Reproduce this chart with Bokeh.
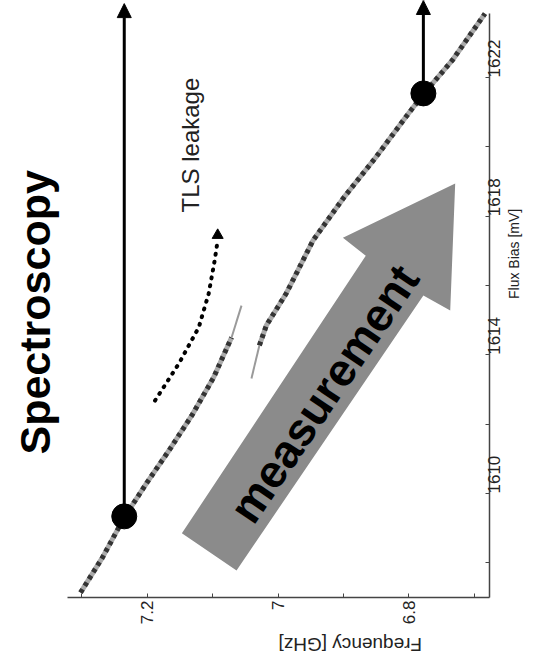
import math
from bokeh.plotting import figure
from bokeh.models import Range1d, FixedTicker, Label, Arrow, NormalHead, Title
from bokeh.embed import file_html
from bokeh.resources import INLINE

FONT = "Liberation Sans"

# Spectroscopy data: flux bias [mV] and qubit frequency [GHz]
lower_flux = [1607.14, 1608.15, 1609.31, 1610.32, 1611.24, 1612.25, 1613.35, 1614.50]
lower_freq = [7.3017, 7.2683, 7.2349, 7.2000, 7.1666, 7.1317, 7.0983, 7.0710]
lower_fade_flux = [1614.50, 1615.42]
lower_fade_freq = [7.0710, 7.0558]
upper_fade_flux = [1613.32, 1614.27]
upper_fade_freq = [7.0406, 7.0285]
upper_flux = [1614.27, 1614.85, 1615.77, 1617.30, 1618.54, 1619.69, 1620.96, 1621.48, 1622.49, 1623.84]
upper_freq = [7.0285, 7.0178, 6.9875, 6.9465, 6.8994, 6.8509, 6.8008, 6.7795, 6.7340, 6.6839]

# operating points and their arrows
point_flux = [1609.34, 1621.54]
point_freq = [7.2349, 6.7780]
arrow_top_flux = [1624.13, 1624.22]

# TLS leakage path
tls_flux = [1612.68, 1613.75, 1614.79, 1615.77, 1616.72, 1617.30]
tls_freq = [7.1879, 7.1514, 7.1211, 7.1059, 7.0968, 7.0922]
tls_tip = (7.0922, 1617.45)

# big "measurement" arrow outline
meas_freq = [7.1469, 6.8660, 6.9009, 6.7294, 6.7370, 6.7780, 7.0634]
meas_flux = [1608.85, 1616.86, 1617.38, 1618.94, 1615.28, 1615.71, 1607.78]

# ticks
freq_ticks = [7.2, 7.0, 6.8]
freq_minor = [7.3, 7.1, 6.9, 6.7]
flux_ticks = [1610, 1614, 1618, 1622]
flux_minor = [1608, 1612, 1616, 1620]

p = figure(width=535, height=668,
           x_range=Range1d(7.3216, 6.677), y_range=Range1d(1607.0, 1624.22),
           x_axis_location="below", y_axis_location="right",
           output_backend="svg", toolbar_location=None,
           min_border_left=65, min_border_right=46, min_border_top=0, min_border_bottom=71)
p.xgrid.visible = False
p.ygrid.visible = False
p.outline_line_color = None
p.background_fill_color = "white"
p.border_fill_color = "white"

for ax in (p.xaxis[0], p.yaxis[0]):
    ax.axis_line_color = "#444444"
    ax.axis_line_width = 1.5
    ax.major_tick_in = 4
    ax.major_tick_out = 0
    ax.minor_tick_in = 4
    ax.minor_tick_out = 0
    ax.major_tick_line_color = "#444444"
    ax.minor_tick_line_color = "#444444"
    ax.major_label_text_font = FONT
    ax.major_label_text_font_size = "17px"
    ax.major_label_text_color = "#222222"
    ax.major_label_orientation = math.pi / 2
    ax.axis_label_text_font = FONT
    ax.axis_label_text_font_style = "normal"
    ax.axis_label_text_color = "#222222"

xa = p.xaxis[0]
xa.ticker = FixedTicker(ticks=freq_ticks, minor_ticks=freq_minor)
xa.major_label_overrides = {7.2: "7.2", 7.0: "7", 6.8: "6.8"}
xa.major_label_standoff = 3
xa.axis_label = "Frequency [GHz]"
xa.axis_label_orientation = math.pi
xa.axis_label_text_font_size = "19px"
xa.axis_label_standoff = 17

ya = p.yaxis[0]
ya.ticker = FixedTicker(ticks=flux_ticks, minor_ticks=flux_minor)
ya.bounds = (1607.0, 1623.85)
ya.major_label_standoff = 5
ya.axis_label = "Flux Bias [mV]"
ya.axis_label_orientation = math.pi / 2
ya.axis_label_text_font_size = "14px"
ya.axis_label_standoff = 4

p.add_layout(Title(text="Spectroscopy", align="left", offset=143, standoff=17,
                   text_font=FONT, text_font_size="43px", text_font_style="bold",
                   text_color="black"), "left")

# big gray arrow
p.patch(meas_freq, meas_flux, fill_color="#8b8b8b", line_color=None)

# spectroscopy traces
for fx, fy in ((lower_freq, lower_flux), (upper_freq, upper_flux)):
    p.line(fx, fy, line_color="#aaaaaa", line_width=5)
    p.line(fx, fy, line_color="#333333", line_width=5, line_dash="4 4")
for fx, fy in ((lower_fade_freq, lower_fade_flux), (upper_fade_freq, upper_fade_flux)):
    p.line(fx, fy, line_color="#9a9a9a", line_width=2)

# TLS leakage dotted arrow
p.line(tls_freq, tls_flux, line_color="black", line_width=4, line_dash="1 7", line_cap="round")
p.scatter([tls_tip[0]], [tls_tip[1]], marker="triangle", size=11, fill_color="black", line_color="black")

# vertical arrows from operating points
for f, b0, b1 in zip(point_freq, point_flux, arrow_top_flux):
    p.add_layout(Arrow(end=NormalHead(size=14, fill_color="black", line_color="black"),
                       x_start=f, y_start=b0, x_end=f, y_end=b1,
                       line_width=3, line_color="black"))
p.scatter(point_freq, point_flux, size=25, fill_color="black", line_color="black")

# texts inside the plot
p.add_layout(Label(x=6.9298, y=1612.88, text="measurement", angle=0.976,
                   text_font=FONT, text_font_size="46px", text_font_style="bold",
                   text_align="center", text_baseline="middle", text_color="black"))
p.add_layout(Label(x=7.1332, y=1620.05, text="TLS leakage", angle=math.pi / 2,
                   text_font=FONT, text_font_size="24px",
                   text_align="center", text_baseline="alphabetic", text_color="#222222"))

open("out.html", "w").write(file_html(p, INLINE))
